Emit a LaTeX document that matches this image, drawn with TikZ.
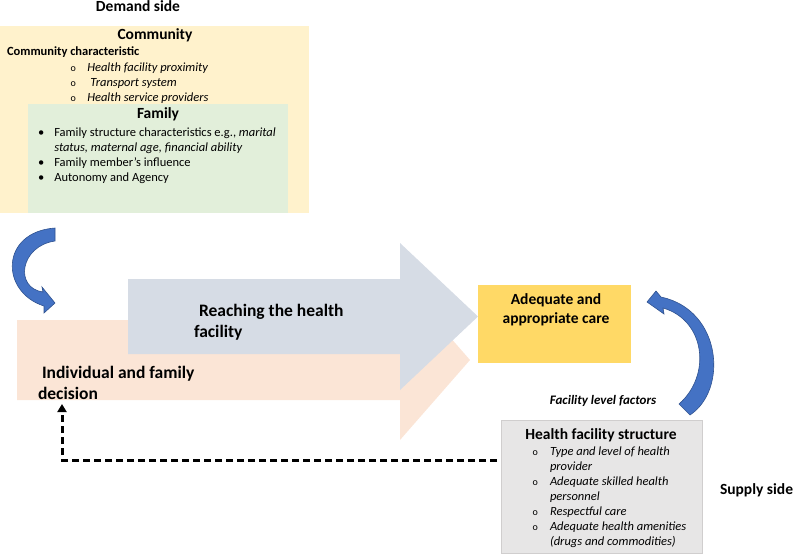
\documentclass[tikz,border=0pt]{standalone}
\usepackage{fontspec}
\setmainfont{Carlito}
\usetikzlibrary{arrows.meta,positioning}

\definecolor{commfill}{HTML}{FFF2CC}
\definecolor{famfill}{HTML}{E2EFDA}
\definecolor{decfill}{HTML}{FBE5D6}
\definecolor{reachfill}{HTML}{D6DCE5}
\definecolor{carefill}{HTML}{FFD966}
\definecolor{hffill}{HTML}{E7E6E6}
\definecolor{hfedge}{HTML}{D0CECE}
\definecolor{bendfill}{HTML}{4472C4}
\definecolor{bendedge}{HTML}{2F528F}

\begin{document}
\begin{tikzpicture}[
    x=1pt, y=-1pt,
    every node/.style={inner sep=0pt, outer sep=0pt},
    panel/.style={anchor=north west, minimum width=#1},
    heading/.style={font=\fontsize{15.5}{18}\selectfont\bfseries, anchor=base},
    listtext/.style={font=\fontsize{12.5}{15}\selectfont, align=left, anchor=base west},
    bigtext/.style={font=\fontsize{17.5}{21}\selectfont\bfseries, align=left, anchor=base west},
    curvedarrow/.style={fill=bendfill, draw=bendedge, line width=0.6pt},
    feedback/.style={-{Triangle[length=8pt, width=9pt]}, line width=3pt, dash pattern=on 7pt off 4pt}
]
\useasboundingbox (0,0) rectangle (800,556);

% demand side (multi-line nodes sit on the baseline of their last line)
\node[heading] (demand) at (138,12) {Demand side};
\node[panel=309pt, minimum height=187pt, fill=commfill] (community) at (0,26) {};
\node[heading] (commtitle) at (155,40) {Community};
\node[listtext, font=\fontsize{12.5}{15}\selectfont\bfseries] (commchar) at (7,56) {Community characteristic};
\node[listtext] (commlist) at (70.7,101.5) {\makebox[16.6pt][l]{\fontsize{10}{10}\selectfont o}\textit{Health facility proximity}\\
  \makebox[16.6pt][l]{\fontsize{10}{10}\selectfont o}\hspace*{3pt}\textit{Transport system}\\
  \makebox[16.6pt][l]{\fontsize{10}{10}\selectfont o}\textit{Health service providers}};
\node[panel=260pt, minimum height=109pt, fill=famfill] (family) at (28,104) {};
\node[heading] (famtitle) at (158,119) {Family};
\node[listtext] (famlist) at (38,181.5) {\makebox[16.3pt][l]{\textbullet}Family structure characteristics e.g., \textit{marital}\\
  \hspace*{16.3pt}\textit{status, maternal age, financial ability}\\
  \makebox[16.3pt][l]{\textbullet}Family member’s influence\\
  \makebox[16.3pt][l]{\textbullet}Autonomy and Agency};

% curved arrow into the decision
\draw[curvedarrow] (55,241) .. controls (20,246) and (14,288) .. (43,292) -- (42,287) -- (55,303)
  -- (44,313) -- (44,306) .. controls (0,292) and (0,232) .. (55,228) -- cycle;

% the two big arrows
\fill[decfill] (17,320) -- (400,320) -- (400,280) -- (470,360) -- (400,440) -- (400,400) -- (17,400) -- cycle;
\fill[reachfill] (128,279) -- (400,279) -- (400,243) -- (478,316.5) -- (400,390) -- (400,354) -- (128,354) -- cycle;
\node[bigtext] (reaching) at (194,337.5) {\hspace*{5pt}Reaching the health\\facility};
\node[bigtext] (decision) at (38,399) {\hspace*{4pt}Individual and family\\decision};

% outcome
\node[panel=153pt, minimum height=78pt, fill=carefill] (care) at (478,285) {};
\node[heading, align=center, font=\fontsize{15.5}{19}\selectfont\bfseries] (caretext) at (556,323) {Adequate and\\appropriate care};

% supply side
\draw[curvedarrow] (679,404) .. controls (712,375) and (705,320) .. (663,308) -- (664,314) -- (647,302)
  -- (656,291) -- (661,297) .. controls (722,310) and (728,390) .. (690,415) -- cycle;
\node[heading, font=\fontsize{13}{15}\selectfont\bfseries\itshape] (factors) at (603,404) {Facility level factors};
\node[panel=201pt, minimum height=133pt, fill=hffill, draw=hfedge, line width=0.8pt] (hfs) at (501,420) {};
\node[heading] (hftitle) at (601,439) {Health facility structure};
\node[listtext] (hflist) at (532.7,545) {\makebox[17.3pt][l]{\fontsize{10}{10}\selectfont o}\textit{Type and level of health}\\
  \hspace*{17.3pt}\textit{provider}\\
  \makebox[17.3pt][l]{\fontsize{10}{10}\selectfont o}\textit{Adequate skilled health}\\
  \hspace*{17.3pt}\textit{personnel}\\
  \makebox[17.3pt][l]{\fontsize{10}{10}\selectfont o}\textit{Respectful care}\\
  \makebox[17.3pt][l]{\fontsize{10}{10}\selectfont o}\textit{Adequate health amenities}\\
  \hspace*{17.3pt}\textit{(drugs and commodities)}};
\node[heading, anchor=base west] (supply) at (720,494) {Supply side};

% feedback to the decision
\coordinate (dectip) at (62,404);
\draw[feedback] ([xshift=-4pt]hfs.west |- 0,460) -| (dectip);
\end{tikzpicture}
\end{document}
